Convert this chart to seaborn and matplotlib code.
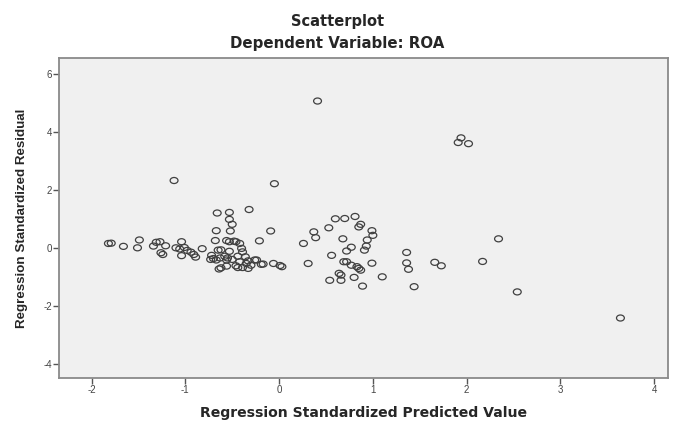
import matplotlib
matplotlib.use("Agg")
import matplotlib.pyplot as plt
from matplotlib.path import Path
from matplotlib.transforms import Affine2D
import numpy as np
import pandas as pd
import seaborn as sns

# values (standardized predicted value, standardized residual)
pred = [-1.82, -1.79, -1.66, -1.49, -1.51, -1.34, -1.31, -1.27, -1.21, -1.26,
	-1.24, -1.12, -1.10, -1.06, -1.04, -1.01, -0.98, -0.94, -0.91, -0.89,
	-1.04, -0.82,
	-0.66, -0.67, -0.68, -0.65, -0.64, -0.73, -0.72, -0.70, -0.67, -0.63,
	-0.62, -0.62, -0.58, -0.56, -0.56, -0.55, -0.53, -0.53, -0.50, -0.52,
	-0.56, -0.53, -0.53, -0.50, -0.48, -0.46, -0.46, -0.44, -0.44, -0.42,
	-0.42, -0.40, -0.39, -0.39, -0.36, -0.35, -0.33, -0.33, -0.32, -0.30,
	-0.26, -0.24, -0.21, -0.19, -0.17, -0.09, -0.05, -0.06, 0.01, 0.03,
	0.26, 0.31, 0.37, 0.39, 0.41, 0.53, 0.54, 0.56, 0.60, 0.64,
	0.66, 0.66, 0.68, 0.69, 0.70, 0.72, 0.72, 0.77, 0.77, 0.80,
	0.81, 0.83, 0.85, 0.87, 0.85, 0.87, 0.89, 0.91, 0.93, 0.94,
	0.99, 1.00, 0.99, 1.10, 1.36, 1.36, 1.38, 1.44, 1.66, 1.73,
	1.91, 1.94, 2.02, 2.17, 2.34, 2.54, 3.64]
resid = [0.16, 0.17, 0.06, 0.28, 0.01, 0.07, 0.20, 0.22, 0.08, -0.16,
	-0.22, 2.33, 0.01, -0.03, 0.22, 0.02, -0.08, -0.14, -0.22, -0.31,
	-0.26, -0.02,
	1.21, 0.60, 0.26, -0.07, -0.72, -0.39, -0.25, -0.36, -0.41, -0.34,
	-0.68, -0.06, -0.28, -0.41, -0.62, -0.34, 1.23, 0.99, 0.82, 0.59,
	0.26, 0.22, -0.11, -0.39, 0.24, 0.22, -0.61, -0.28, -0.67, 0.16,
	-0.47, -0.01, -0.13, -0.67, -0.30, -0.53, -0.44, -0.70, 1.33, -0.59,
	-0.41, -0.41, 0.25, -0.56, -0.55, 0.59, 2.22, -0.53, -0.60, -0.64,
	0.16, -0.53, 0.56, 0.36, 5.07, 0.70, -1.11, -0.25, 1.01, -0.87,
	-1.11, -0.93, 0.32, -0.47, 1.02, -0.47, -0.10, 0.03, -0.59, -1.01,
	1.09, -0.64, 0.73, 0.82, -0.70, -0.76, -1.31, -0.07, 0.07, 0.28,
	0.60, 0.44, -0.52, -0.99, -0.15, -0.51, -0.73, -1.33, -0.49, -0.61,
	3.64, 3.80, 3.60, -0.46, 0.32, -1.51, -2.41]

x_ticks = [-2, -1, 0, 1, 2, 3, 4]
y_ticks = [-4, -2, 0, 2, 4, 6]


def main():
	df = pd.DataFrame({"pred": pred, "resid": resid})

	sns.set_style("white")
	plt.rcParams['font.family'] = ['Liberation Sans', 'DejaVu Sans']
	plt.rcParams['axes.unicode_minus'] = False

	# the reference looks stretched sideways, so the rings are a bit wider than tall
	ring = Path.unit_circle().transformed(Affine2D().scale(1.3, 1.0))

	fig = plt.figure(figsize=(6.75, 4.21), dpi=100)
	ax = fig.add_axes([0.087, 0.102, 0.903, 0.76])
	ax.set_facecolor('#f0f0f0')

	sns.scatterplot(data=df, x="pred", y="resid", ax=ax, marker=ring, s=32,
		facecolors='none', edgecolor='#404040', linewidth=0.9)

	ax.set_xlim(-2.35, 4.15)
	ax.set_ylim(-4.48, 6.55)
	ax.set_xticks(x_ticks)
	ax.set_yticks(y_ticks)
	ax.tick_params(axis='both', direction='out', length=4, width=1, color='#555555',
		labelsize=7, labelcolor='#444444', pad=1, left=True, bottom=True)
	for sp in ax.spines.values():
		sp.set_color('#8a8a8a')
		sp.set_linewidth(1.3)

	ax.set_xlabel("Regression Standardized Predicted Value", fontsize=10.1, fontweight='bold',
		family=['DejaVu Sans'], labelpad=8)
	ax.set_ylabel("Regression Standardized Residual", fontsize=9.6, fontweight='bold', labelpad=11)

	fig.text(0.5, 0.939, "Scatterplot", ha='center', va='baseline', fontsize=10.5,
		fontweight='bold', family=['DejaVu Sans'])
	fig.text(0.5, 0.887, "Dependent Variable: ROA", ha='center', va='baseline', fontsize=10.8,
		fontweight='bold', family=['DejaVu Sans'])

	plt.savefig('out.png', dpi=100)


if __name__ == '__main__':
	main()
